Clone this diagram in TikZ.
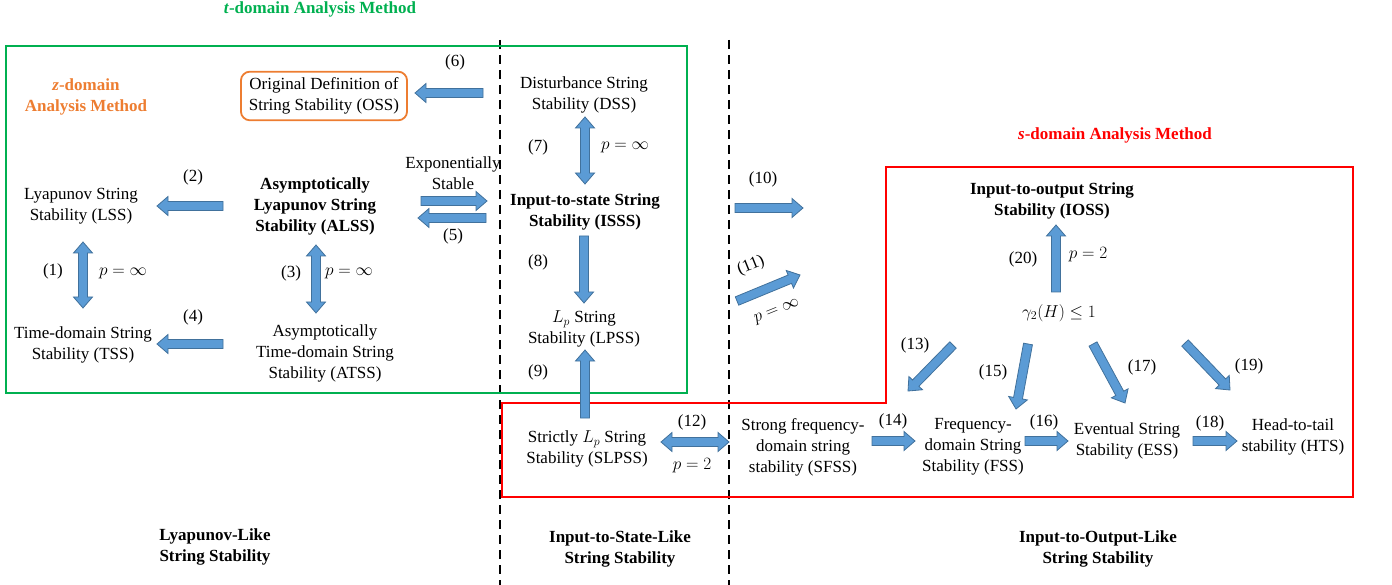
\documentclass[tikz,border=0pt]{standalone}
\usepackage{fontspec}
\setmainfont{Liberation Serif}
\usetikzlibrary{calc}
\definecolor{ablue}{HTML}{5B9BD5}
\definecolor{ablueedge}{HTML}{41719C}
\definecolor{tgreen}{HTML}{00B050}
\definecolor{zorange}{HTML}{ED7D31}
\definecolor{sred}{HTML}{FF0000}
\tikzset{
  blockarrow/.style={fill=ablue, draw=ablueedge, line width=0.8pt, line join=miter},
  lbl/.style={font=\fontsize{17}{21}\selectfont, align=center, inner sep=0pt},
  mlbl/.style={font=\fontsize{18}{21}\selectfont, align=center, inner sep=0pt},
  blbl/.style={font=\fontsize{17}{21}\selectfont\bfseries, align=center, inner sep=0pt},
  divider/.style={draw=black, line width=1.8pt, dash pattern=on 9pt off 6pt},
  greenbox/.style={draw=tgreen, line width=1.8pt},
  redbox/.style={draw=sred, line width=1.8pt},
}
\newcommand\barrow[2]{%
  \coordinate (ba) at ($(#2)!11pt!(#1)$);
  \draw[blockarrow] ($(#1)!4.5pt!90:(#2)$) -- ($(ba)!4.5pt!-90:(#1)$) -- ($(ba)!9.5pt!-90:(#1)$)
    -- (#2) -- ($(ba)!9.5pt!90:(#1)$) -- ($(ba)!4.5pt!90:(#1)$) -- ($(#1)!4.5pt!-90:(#2)$) -- cycle;}
\newcommand\dbarrow[2]{%
  \coordinate (ba) at ($(#2)!11pt!(#1)$);
  \coordinate (bb) at ($(#1)!11pt!(#2)$);
  \draw[blockarrow] (#1) -- ($(bb)!9.5pt!90:(#2)$) -- ($(bb)!4.5pt!90:(#2)$) -- ($(ba)!4.5pt!-90:(#1)$)
    -- ($(ba)!9.5pt!-90:(#1)$) -- (#2) -- ($(ba)!9.5pt!90:(#1)$) -- ($(ba)!4.5pt!90:(#1)$)
    -- ($(bb)!4.5pt!-90:(#2)$) -- ($(bb)!9.5pt!-90:(#2)$) -- cycle;}
\begin{document}
\begin{tikzpicture}[x=1pt,y=-1pt]
\useasboundingbox (0,0) rectangle (1392,585);
% dividers
\draw[divider] (500,40) -- (500,585);
\draw[divider] (729,40) -- (729,585);
% boxes
\draw[greenbox] (6,46) rectangle (687,393);
\draw[redbox] (502,403) -- (886,403) -- (886,167) -- (1353,167) -- (1353,497) -- (502,497) -- cycle;
% titles
\node[blbl, text=tgreen] (ttitle) at (320,9) {\textit{t}-domain Analysis Method};
\node[blbl, text=zorange] (ztitle) at (86,97) {\textit{z}-domain\\Analysis Method};
\node[blbl, text=sred] (stitle) at (1115,135) {\textit{s}-domain Analysis Method};
% nodes
\node[lbl, draw=zorange, line width=1.8pt, rounded corners=9pt, inner xsep=8pt, inner ysep=6pt] (oss) at (324,96) {Original Definition of\\String Stability (OSS)};
\node[lbl] (lss) at (81,206) {Lyapunov String\\Stability (LSS)};
\node[lbl] (tss) at (83,345) {Time-domain String\\Stability (TSS)};
\node[blbl] (alss) at (315,206) {Asymptotically\\Lyapunov String\\Stability (ALSS)};
\node[lbl] (atss) at (325,353) {Asymptotically\\Time-domain String\\Stability (ATSS)};
\node[lbl] (expst) at (453,173) {Exponentially\\Stable};
\node[lbl] (dss) at (584,95) {Disturbance String\\Stability (DSS)};
\node[blbl] (isss) at (585,212) {Input-to-state String\\Stability (ISSS)};
\node[lbl] (lpss) at (584,329) {$L_p$ String\\Stability (LPSS)};
\node[lbl] (slpss) at (587,449) {Strictly $L_p$ String\\Stability (SLPSS)};
\node[lbl] (sfss) at (803,447) {Strong frequency-\\domain string\\stability (SFSS)};
\node[lbl] (fss) at (973,447) {Frequency-\\domain String\\Stability (FSS)};
\node[lbl] (ess) at (1127,441) {Eventual String\\Stability (ESS)};
\node[lbl] (hts) at (1293,437) {Head-to-tail\\stability (HTS)};
\node[blbl] (ioss) at (1052,201) {Input-to-output String\\Stability (IOSS)};
\node[mlbl] (gam) at (1059,313) {$\gamma_2(H)\leq 1$};
% bottom categories
\node[blbl] (cat1) at (215,547) {Lyapunov-Like\\String Stability};
\node[blbl] (cat2) at (620,549) {Input-to-State-Like\\String Stability};
\node[blbl] (cat3) at (1098,549) {Input-to-Output-Like\\String Stability};
% arrow endpoints
\coordinate (a6s) at (483,93);   \coordinate (a6e) at (415,93);
\coordinate (a2s) at (223,206);  \coordinate (a2e) at (157,206);
\coordinate (a4s) at (223,344);  \coordinate (a4e) at (157,344);
\coordinate (a1s) at (83,242);   \coordinate (a1e) at (83,308);
\coordinate (a3s) at (316,245);  \coordinate (a3e) at (316,313);
\coordinate (aes) at (421,201);  \coordinate (aee) at (487,201);
\coordinate (a5s) at (486,218);  \coordinate (a5e) at (418,218);
\coordinate (a7s) at (585,117);  \coordinate (a7e) at (585,184);
\coordinate (a8s) at (584,236);  \coordinate (a8e) at (584,303);
\coordinate (a9s) at (585,418);  \coordinate (a9e) at (585,350);
\coordinate (a10s) at (735,208); \coordinate (a10e) at (803,208);
\coordinate (a11s) at (737,301); \coordinate (a11e) at (800,275);
\coordinate (a12s) at (661,442); \coordinate (a12e) at (729,442);
\coordinate (a13s) at (953,345); \coordinate (a13e) at (908,391);
\coordinate (a14s) at (872,441); \coordinate (a14e) at (915,441);
\coordinate (a15s) at (1028,344); \coordinate (a15e) at (1016,409);
\coordinate (a16s) at (1025,441); \coordinate (a16e) at (1068,441);
\coordinate (a17s) at (1093,344); \coordinate (a17e) at (1125,403);
\coordinate (a18s) at (1193,441); \coordinate (a18e) at (1237,441);
\coordinate (a19s) at (1185,343); \coordinate (a19e) at (1230,390);
\coordinate (a20s) at (1056,292); \coordinate (a20e) at (1056,225);
% arrows
\barrow{a6s}{a6e}
\barrow{a2s}{a2e}
\barrow{a4s}{a4e}
\dbarrow{a1s}{a1e}
\dbarrow{a3s}{a3e}
\barrow{aes}{aee}
\barrow{a5s}{a5e}
\dbarrow{a7s}{a7e}
\barrow{a8s}{a8e}
\barrow{a9s}{a9e}
\barrow{a10s}{a10e}
\barrow{a11s}{a11e}
\dbarrow{a12s}{a12e}
\barrow{a13s}{a13e}
\barrow{a14s}{a14e}
\barrow{a15s}{a15e}
\barrow{a16s}{a16e}
\barrow{a17s}{a17e}
\barrow{a18s}{a18e}
\barrow{a19s}{a19e}
\barrow{a20s}{a20e}
% arrow labels
\node[lbl] (l6) at (455,62) {(6)};
\node[lbl] (l2) at (193,177) {(2)};
\node[lbl] (l4) at (193,317) {(4)};
\node[lbl] (l1) at (53,271) {(1)};
\node[mlbl] (p1) at (123,273) {$p=\infty$};
\node[lbl] (l3) at (291,273) {(3)};
\node[mlbl] (p3) at (349,273) {$p=\infty$};
\node[lbl] (l5) at (453,236) {(5)};
\node[lbl] (l7) at (538,147) {(7)};
\node[mlbl] (p7) at (625,147) {$p=\infty$};
\node[lbl] (l8) at (538,262) {(8)};
\node[lbl] (l9) at (538,372) {(9)};
\node[lbl] (l10) at (763,179) {(10)};
\node[lbl, rotate=22] (l11) at (751,266) {(11)};
\node[mlbl, rotate=22] (p11) at (777,312) {$p=\infty$};
\node[lbl] (l12) at (692,422) {(12)};
\node[mlbl] (p12) at (692,466) {$p=2$};
\node[lbl] (l13) at (915,345) {(13)};
\node[lbl] (l14) at (893,421) {(14)};
\node[lbl] (l15) at (993,372) {(15)};
\node[lbl] (l16) at (1044,422) {(16)};
\node[lbl] (l17) at (1142,367) {(17)};
\node[lbl] (l18) at (1210,423) {(18)};
\node[lbl] (l19) at (1249,366) {(19)};
\node[lbl] (l20) at (1023,259) {(20)};
\node[mlbl] (p20) at (1088,255) {$p=2$};
\end{tikzpicture}
\end{document}
